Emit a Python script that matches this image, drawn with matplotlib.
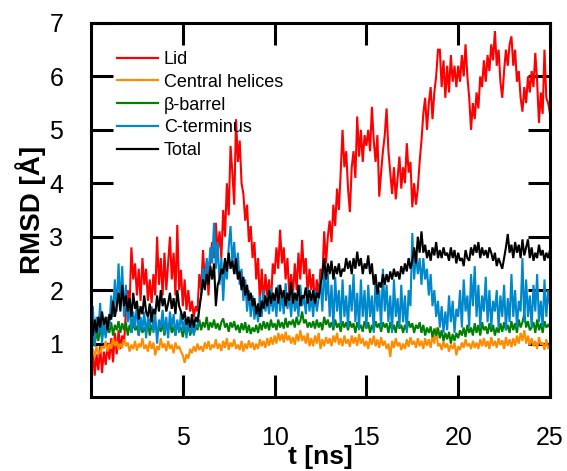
import numpy as np
import matplotlib
matplotlib.use("Agg")
import matplotlib.pyplot as plt

plt.rcParams['font.family'] = ['Liberation Sans', 'DejaVu Sans']

# time axis: 0..25 ns, samples every 0.1 ns
t_ns = np.round(np.arange(251) * 0.1, 1)

lid = [
    0.55,0.9,0.4,0.8,0.5,0.95,0.45,0.85,0.6,1.0,
    0.7,1.1,0.65,1.2,0.8,1.25,0.9,1.15,1.0,1.6,
    2.0,1.7,2.8,2.2,2.5,1.9,2.4,1.8,2.6,2.1,
    2.4,1.8,2.2,1.76,2.3,1.9,3.0,2.1,2.6,1.9,
    2.7,2.0,2.5,3.0,2.2,2.7,1.9,3.22,2.0,2.38,
    1.7,2.2,1.63,2.0,1.6,1.8,1.5,1.7,1.6,2.3,
    2.0,2.75,2.2,2.5,1.9,2.6,2.9,2.6,3.26,2.7,
    3.1,2.6,3.5,3.0,4.0,3.4,4.7,4.2,3.6,5.2,
    4.4,4.8,4.0,3.8,3.3,3.6,2.9,3.2,2.6,2.9,
    2.2,2.6,1.76,2.4,1.7,2.3,1.9,2.2,1.7,2.5,
    2.3,2.8,2.4,3.13,2.5,2.8,2.2,2.6,1.9,2.3,
    1.9,2.5,2.0,2.7,2.2,2.94,2.3,2.6,1.9,2.4,
    2.0,2.3,1.7,2.2,1.9,2.4,2.2,3.1,2.5,3.0,
    3.3,2.9,3.6,3.2,3.9,3.5,4.2,5.0,4.3,4.6,
    3.9,3.46,4.3,4.6,4.1,5.25,4.5,5.0,4.4,4.9,
    4.7,5.0,4.6,5.43,4.8,4.4,4.9,3.75,4.2,4.6,
    4.9,5.4,4.6,4.2,3.8,4.3,3.7,4.1,4.5,3.9,
    4.3,4.0,4.75,4.2,4.4,3.55,4.0,3.6,3.9,4.4,
    4.8,5.3,5.6,5.0,5.5,5.8,5.2,5.7,6.0,6.5,
    6.5,5.8,6.3,5.6,6.2,5.7,6.4,5.9,6.2,5.8,
    6.2,5.9,6.4,6.0,6.6,6.0,5.6,5.0,5.5,5.2,
    5.7,5.4,6.0,5.8,6.3,5.9,6.4,6.1,6.6,6.3,
    6.85,6.2,6.5,5.9,5.6,6.1,6.5,6.2,6.6,6.75,
    6.2,6.5,5.9,6.1,5.6,5.34,5.8,5.5,6.0,5.7,
    6.1,5.8,6.44,5.9,5.13,5.7,5.3,6.5,5.6,5.5,
    5.3,
]

central = [
    0.7,0.9,0.75,0.95,0.8,0.85,0.95,0.9,1.05,0.85,
    1.0,0.9,1.1,0.95,1.05,0.88,1.0,0.92,1.08,0.95,
    1.02,0.85,0.98,0.9,1.05,0.87,1.0,0.93,1.1,0.9,
    0.98,0.85,1.05,0.9,1.02,0.78,0.95,0.88,1.1,0.92,
    1.0,0.86,1.05,0.9,0.98,0.82,1.02,0.9,0.95,0.85,
    0.78,0.64,0.8,0.72,0.9,0.82,0.95,0.85,1.0,0.88,
    0.95,0.85,1.02,0.9,1.05,0.88,0.98,0.92,1.08,0.9,
    1.0,0.86,1.05,0.92,1.1,0.88,1.02,0.94,1.08,0.9,
    0.98,0.88,1.05,0.85,1.0,0.9,1.06,0.92,1.02,0.88,
    1.0,0.9,1.08,0.95,1.05,0.92,1.1,0.96,1.12,0.98,
    1.15,1.0,1.2,1.05,1.18,1.02,1.22,1.06,1.15,1.0,
    1.12,0.98,1.18,1.04,1.25,1.05,1.15,1.0,1.2,0.95,
    1.1,0.95,1.15,1.0,1.2,0.9,1.08,0.95,1.12,1.0,
    1.1,0.95,1.15,1.02,1.2,0.98,1.1,0.95,1.15,1.0,
    1.08,0.94,1.15,1.0,1.12,0.96,1.18,1.0,1.1,0.95,
    1.05,0.9,1.1,0.98,1.15,0.95,1.08,0.92,1.12,0.96,
    1.05,0.9,1.0,0.75,1.05,0.92,1.1,0.95,1.02,0.88,
    1.0,0.9,1.08,0.94,1.12,0.98,1.05,0.92,1.1,0.95,
    1.05,0.9,1.1,0.96,1.08,0.92,1.15,1.0,1.3,0.95,
    1.0,0.88,1.05,0.92,1.0,0.85,0.98,0.9,1.02,0.78,
    0.95,0.88,1.02,0.92,1.08,0.95,1.0,0.9,1.05,0.92,
    1.02,0.9,1.08,0.95,1.1,0.94,1.05,0.9,1.12,0.96,
    1.05,0.92,1.1,0.97,1.06,0.9,1.12,0.96,1.08,0.93,
    1.1,0.96,1.15,1.0,1.2,1.05,1.25,1.0,1.15,0.97,
    1.1,0.95,1.05,0.9,1.12,0.98,1.02,0.88,1.08,0.92,
    0.95,
]

barrel = [
    1.0,1.2,0.95,1.25,1.05,1.3,1.1,1.35,1.15,1.3,
    1.2,1.4,1.15,1.35,1.25,1.42,1.2,1.38,1.25,1.4,
    1.15,1.35,1.2,1.4,1.25,1.33,1.15,1.38,1.2,1.3,
    1.2,1.42,1.15,1.35,1.25,1.4,1.18,1.32,1.22,1.38,
    1.15,1.35,1.25,1.4,1.2,1.32,1.15,1.38,1.25,1.3,
    1.12,1.3,1.18,1.35,1.15,1.28,1.2,1.35,1.25,1.45,
    1.25,1.4,1.3,1.5,1.25,1.4,1.3,1.45,1.28,1.38,
    1.25,1.4,1.47,1.3,1.38,1.22,1.4,1.3,1.42,1.25,
    1.35,1.2,1.38,1.25,1.4,1.2,1.35,1.18,1.3,1.22,
    1.35,1.2,1.38,1.25,1.42,1.28,1.4,1.25,1.45,1.3,
    1.38,1.25,1.45,1.3,1.4,1.28,1.48,1.3,1.42,1.35,
    1.45,1.3,1.5,1.35,1.42,1.6,1.38,1.45,1.3,1.4,
    1.3,1.42,1.28,1.45,1.3,1.4,1.25,1.5,1.35,1.45,
    1.3,1.4,1.25,1.45,1.3,1.38,1.22,1.42,1.3,1.4,
    1.25,1.42,1.3,1.38,1.2,1.4,1.28,1.35,1.22,1.42,
    1.28,1.4,1.2,1.35,1.25,1.42,1.3,1.38,1.22,1.4,
    1.3,1.38,1.2,1.4,1.25,1.35,1.2,1.42,1.28,1.35,
    1.2,1.35,1.25,1.42,1.3,1.38,1.2,1.35,1.28,1.4,
    1.2,1.35,1.15,1.3,1.2,1.32,1.12,1.28,1.15,1.3,
    1.1,1.25,1.05,1.2,1.08,1.22,1.0,1.18,1.05,1.2,
    1.1,1.25,1.15,1.3,1.12,1.35,1.2,1.3,1.15,1.38,
    1.2,1.35,1.15,1.4,1.25,1.32,1.18,1.38,1.22,1.35,
    1.15,1.3,1.2,1.38,1.22,1.4,1.25,1.35,1.2,1.42,
    1.25,1.38,1.2,1.45,1.3,1.4,1.57,1.3,1.42,1.25,
    1.3,1.4,1.2,1.45,1.25,1.38,1.2,1.42,1.3,1.35,
    1.3,
]

cterm = [
    1.1,1.7,0.95,1.5,1.2,1.76,1.0,1.45,1.1,1.5,
    1.3,1.9,1.5,2.2,1.6,2.5,1.7,2.45,1.5,2.1,
    1.4,1.7,1.2,1.6,1.3,1.76,1.15,1.5,1.25,1.6,
    1.1,1.5,1.3,1.7,1.2,1.55,1.0,1.45,1.3,1.63,
    1.2,1.5,1.1,1.6,1.3,1.55,1.15,1.45,1.2,1.6,
    1.25,1.45,1.1,1.5,1.2,1.4,1.15,1.35,1.3,1.7,
    1.9,2.4,2.1,2.6,2.3,2.8,2.5,3.26,2.4,2.9,
    2.1,2.6,1.8,2.5,2.2,2.8,3.2,2.5,2.9,2.3,
    2.7,2.1,2.4,1.8,2.2,1.6,2.0,1.5,1.9,1.45,
    1.7,1.4,1.9,1.5,2.0,1.6,1.85,1.55,2.05,1.6,
    1.9,1.5,2.1,1.6,1.95,1.55,2.13,1.65,1.9,1.5,
    2.0,1.6,1.85,1.5,2.1,1.7,1.9,1.55,2.05,1.6,
    1.9,1.5,2.0,1.6,1.85,2.2,1.6,2.5,1.8,2.3,
    1.5,2.1,1.3,2.25,1.6,2.0,1.35,2.2,1.5,1.9,
    1.3,2.1,1.6,2.3,1.4,1.95,1.25,2.2,1.5,2.0,
    1.3,2.1,1.5,1.9,1.2,2.25,1.6,2.0,1.3,2.4,
    1.6,2.1,1.4,1.9,1.2,2.2,1.5,1.85,1.3,2.1,
    1.4,1.9,1.2,2.0,1.7,3.07,2.2,2.7,2.3,2.6,
    2.1,2.6,2.2,2.4,1.9,2.3,1.7,2.0,1.5,1.8,
    1.3,1.7,1.2,1.6,1.25,1.9,1.4,1.8,1.2,1.65,
    1.5,2.0,1.3,2.2,1.6,1.9,1.3,2.3,1.7,2.45,
    1.5,2.1,1.3,1.9,1.6,2.25,1.4,2.0,1.3,1.8,
    1.6,2.0,1.3,1.9,1.5,2.1,1.25,1.85,1.4,2.3,
    1.5,2.0,1.3,1.8,1.6,2.6,1.4,2.2,1.5,1.9,
    1.3,2.1,1.6,2.3,1.4,1.8,1.3,2.2,1.5,2.0,
    1.7,
]

total = [
    1.3,1.15,1.45,1.2,1.5,1.3,1.6,1.35,1.5,1.25,
    1.55,1.45,1.8,1.5,1.7,1.95,1.6,2.1,1.7,1.9,
    1.6,1.85,1.5,1.95,1.65,1.8,1.45,1.7,1.55,1.9,
    1.6,1.5,1.75,1.4,1.65,1.55,1.9,1.6,2.0,1.7,
    1.85,1.6,1.75,1.95,1.65,1.85,1.55,2.0,1.7,1.6,
    1.45,1.6,1.35,1.5,1.3,1.55,1.3,1.5,1.4,1.65,
    1.9,2.2,2.0,2.3,2.1,2.45,2.2,2.5,1.7,2.1,
    2.2,2.4,2.3,2.6,2.35,2.7,2.4,2.55,2.3,2.6,
    2.2,2.35,2.0,2.25,1.9,2.1,1.8,1.95,1.7,1.85,
    1.55,1.75,1.5,1.8,1.65,1.9,1.7,2.0,1.75,1.95,
    1.8,2.05,1.75,2.1,1.85,2.0,1.7,1.95,1.8,2.15,
    1.75,1.95,1.8,2.1,1.7,1.9,1.85,2.05,1.75,2.0,
    1.8,2.0,1.75,1.95,1.85,2.1,2.3,2.6,2.2,2.5,
    2.3,2.55,2.2,2.45,2.3,2.5,2.25,2.4,2.35,2.6,
    2.4,2.55,2.3,2.6,2.4,2.72,2.45,2.6,2.3,2.5,
    2.4,2.65,2.3,2.5,2.1,2.3,1.92,2.15,2.05,2.3,
    2.1,2.3,2.15,2.35,2.2,2.4,2.25,2.35,2.2,2.45,
    2.3,2.5,2.35,2.6,2.4,2.55,2.8,2.5,3.0,2.7,
    3.1,2.7,2.85,2.6,2.75,2.55,2.8,2.65,2.9,2.6,
    2.75,2.6,2.8,2.65,2.7,2.55,2.8,2.6,2.75,2.5,
    2.7,2.55,2.6,2.45,2.75,2.6,2.55,2.8,2.65,2.85,
    2.7,2.9,2.6,2.8,2.65,2.75,2.6,2.8,2.7,2.55,
    2.7,2.45,2.6,2.5,2.4,2.6,2.8,3.05,2.7,2.85,
    2.6,2.9,2.7,2.85,2.6,2.95,2.65,2.8,2.95,2.6,
    2.8,2.55,2.7,2.6,2.85,2.65,2.75,2.55,2.7,2.6,
    2.75,
]

series_labels = ["Lid", "Central helices", "\u03b2-barrel", "C-terminus", "Total"]
series_colors = ["#ff0000", "#ff8c00", "#008000", "#0088cc", "#000000"]
x_ticks = [5, 10, 15, 20, 25]
y_ticks = [1, 2, 3, 4, 5, 6, 7]

fig = plt.figure(figsize=(5.67, 4.71), dpi=100)
ax = fig.add_axes([0.1605, 0.1571, 0.8095, 0.7941])

for vals, lab, col in zip([lid, central, barrel, cterm, total], series_labels, series_colors):
    ax.plot(t_ns, vals, color=col, lw=1.5, label=lab, solid_joinstyle='miter')

ax.set_xlim(0, 25)
ax.set_ylim(0, 7)
ax.set_xticks(x_ticks)
ax.set_yticks(y_ticks)
ax.tick_params(direction='in', length=16, width=2.2, labelsize=18,
               top=True, right=True)
ax.tick_params(axis='x', pad=21)
ax.tick_params(axis='y', pad=20)
for sp in ax.spines.values():
    sp.set_linewidth(2.2)

ax.set_xlabel("t [ns]", fontsize=19, fontweight='bold', labelpad=-4)
ax.set_ylabel("RMSD [\u00c5]", fontsize=20, fontweight='bold', labelpad=2)

leg = ax.legend(loc='upper left', bbox_to_anchor=(0.056, 0.925), frameon=False,
                fontsize=13, handlelength=2.3, handletextpad=0.3,
                labelspacing=0.32, borderpad=0, borderaxespad=0)
for h in leg.get_lines():
    h.set_linewidth(1.6)

fig.savefig("out.png", dpi=100)
